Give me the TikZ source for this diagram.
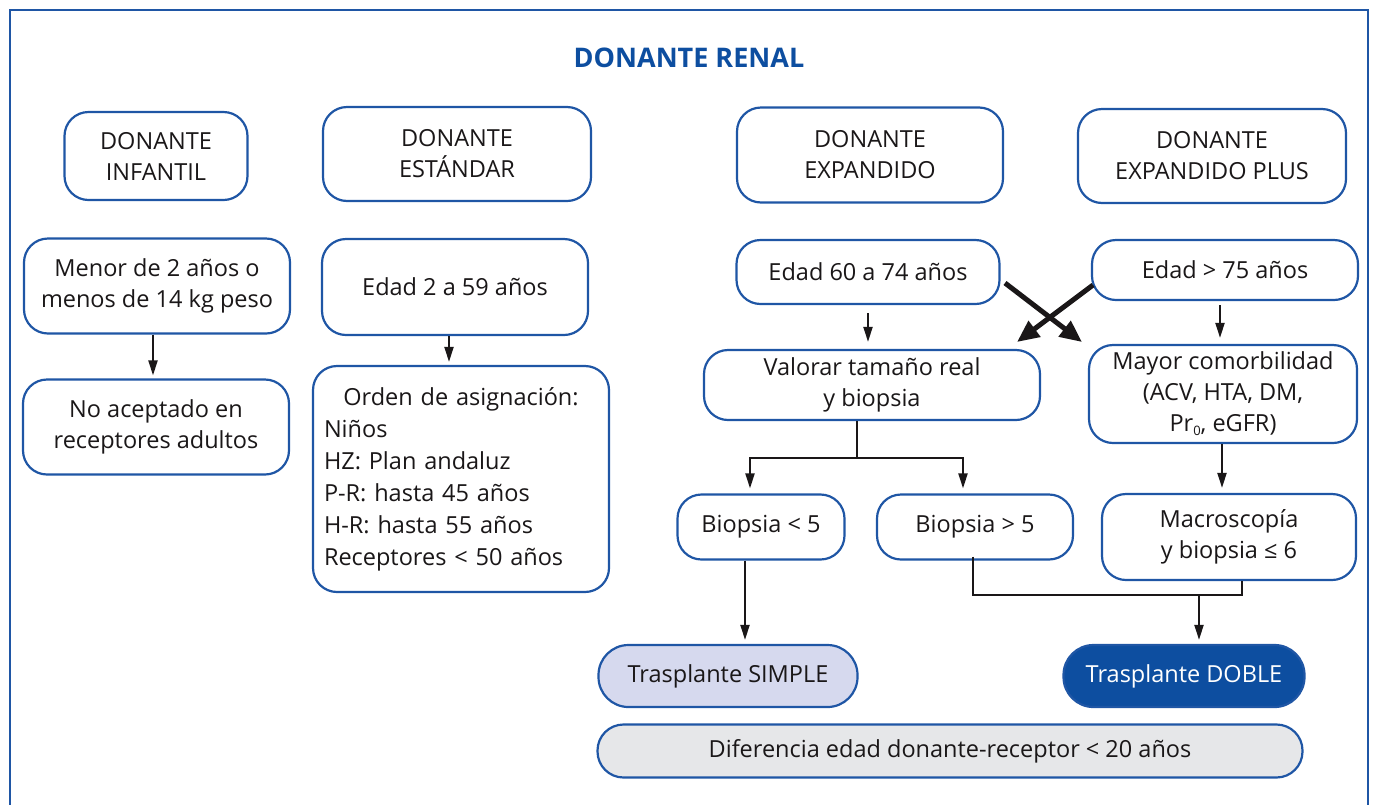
\documentclass[tikz,border=0pt]{standalone}
\usepackage{fontspec}
\setmainfont{Open Sans}
\usetikzlibrary{arrows.meta,positioning}
\definecolor{frameblue}{HTML}{1F56A5}
\definecolor{titleblue}{HTML}{0D4EA0}
\definecolor{simplefill}{HTML}{D6D9EE}
\definecolor{greyfill}{HTML}{E6E7E9}
\definecolor{inkgrey}{HTML}{1A1718}

\begin{document}
\begin{tikzpicture}[x=1pt,y=-1pt]
    \tikzstyle{rbox} = [draw=frameblue, line width=2.2pt, rounded corners=24pt, fill=white, align=center, inner sep=2pt, text=inkgrey, font=\fontsize{23.5}{31}\selectfont]
    \tikzstyle{pill} = [rbox, rounded corners=30pt]
    \tikzstyle{link} = [line width=2pt, draw=inkgrey, -{Triangle[length=15pt,width=9pt]}]
    \tikzstyle{cross} = [line width=5pt, draw=inkgrey, -{Triangle[length=22pt,width=19pt]}]

    \useasboundingbox (0,0) rectangle (1375,804);
    \draw[frameblue, line width=1.2pt] (10,810) -- (10,10) -- (1368,10) -- (1368,810);

    \node[font=\bfseries\fontsize{27}{32}\selectfont, text=titleblue] (title) at (689,58) {DONANTE RENAL};

    % donor types
    \node[rbox, minimum width=183, minimum height=88] (inf) at (156,156) {DONANTE\\INFANTIL};
    \node[rbox, minimum width=268, minimum height=94] (est) at (457,154) {DONANTE\\ESTÁNDAR};
    \node[rbox, minimum width=266, minimum height=95] (exp) at (870,155) {DONANTE\\EXPANDIDO};
    \node[rbox, minimum width=268, minimum height=94] (plus) at (1212,156) {DONANTE\\EXPANDIDO PLUS};

    % criteria
    \node[rbox, minimum width=266, minimum height=95] (men) at (157,286) {Menor de 2 años o\\menos de 14 kg peso};
    \node[rbox, minimum width=266, minimum height=96] (e2) at (455,287) {Edad 2 a 59 años};
    \node[rbox, minimum width=266, minimum height=95] (noac) at (156,427) {No aceptado en\\receptores adultos};
    \node[rbox, minimum width=296, minimum height=226, text width=274, align=left, font=\fontsize{23.5}{32}\selectfont] (ord) at (461,479)
        {\makebox[\linewidth]{Orden de asignación:}\\Niños\\HZ: Plan andaluz\\P-R: hasta 45 años\\H-R: hasta 55 años\\Receptores < 50 años};

    \node[rbox, minimum width=263, minimum height=64] (e60) at (868,272) {Edad 60 a 74 años};
    \node[rbox, minimum width=266, minimum height=60] (e75) at (1225,270) {Edad > 75 años};
    \node[rbox, minimum width=336, minimum height=70] (val) at (872,385) {Valorar tamaño real\\y biopsia};
    \node[rbox, minimum width=268, minimum height=98] (may) at (1223,394)
        {Mayor comorbilidad\\(ACV, HTA, DM,\\Pr\raisebox{-4pt}{\fontsize{13}{13}\selectfont 0}, eGFR)};

    \node[rbox, minimum width=167, minimum height=65] (blo) at (761,527) {Biopsia < 5};
    \node[rbox, minimum width=196, minimum height=65] (bhi) at (975,527) {Biopsia > 5};
    \node[rbox, minimum width=254, minimum height=86] (mac) at (1229,537) {Macroscopía\\y biopsia ≤ 6};

    % results
    \node[pill, fill=simplefill, minimum width=259, minimum height=62] (sim) at (728,676) {Trasplante SIMPLE};
    \node[pill, fill=titleblue, text=white, minimum width=241, minimum height=62] (dob) at (1184,676) {Trasplante DOBLE};
    \node[pill, fill=greyfill, rounded corners=26pt, minimum width=705, minimum height=53] (dif) at (950,751) {Diferencia edad donante-receptor < 20 años};

    % connectors
    \draw[link, shorten >=3pt] ([xshift=-4pt]men.south) -- ([xshift=-4pt]men.south |- noac.north);
    \draw[link, shorten >=3pt] ([xshift=-6pt]e2.south) -- ([xshift=-6pt]e2.south |- ord.north);
    \draw[link, shorten <=8pt, shorten >=7pt] (e60.south) -- (e60.south |- val.north);
    \draw[link, shorten <=4pt, shorten >=6pt] ([xshift=-5pt]e75.south) -- ([xshift=-5pt]e75.south |- may.north);
    \draw[link, shorten >=5pt] ([xshift=-1pt]may.south) -- ([xshift=-1pt]may.south |- mac.north);

    \coordinate (c60) at (1005,283);
    \coordinate (c75) at (1093,285);
    \coordinate (t75) at (1082,342);
    \coordinate (t60) at (1017,342);
    \draw[cross] (c60) -- (t75);
    \draw[cross] (c75) -- (t60);

    \coordinate (vs) at (857,458);
    \draw[line width=2pt, draw=inkgrey] (val.south -| vs) -- (vs);
    \draw[link, shorten >=5pt] (vs) -| ([xshift=-11pt]blo.north);
    \draw[link, shorten >=5pt] (vs) -| ([xshift=-12pt]bhi.north);

    \draw[link, shorten >=4pt] ([xshift=-16pt]blo.south) -- ([xshift=-16pt]blo.south |- sim.north);

    \coordinate (dj) at (1199,595);
    \draw[line width=2pt, draw=inkgrey] ([xshift=-2pt,yshift=4pt]bhi.south) |- (dj) -| ([xshift=13pt]mac.south);
    \draw[link, shorten >=4pt] (dj) -- (dj |- dob.north);
\end{tikzpicture}
\end{document}
